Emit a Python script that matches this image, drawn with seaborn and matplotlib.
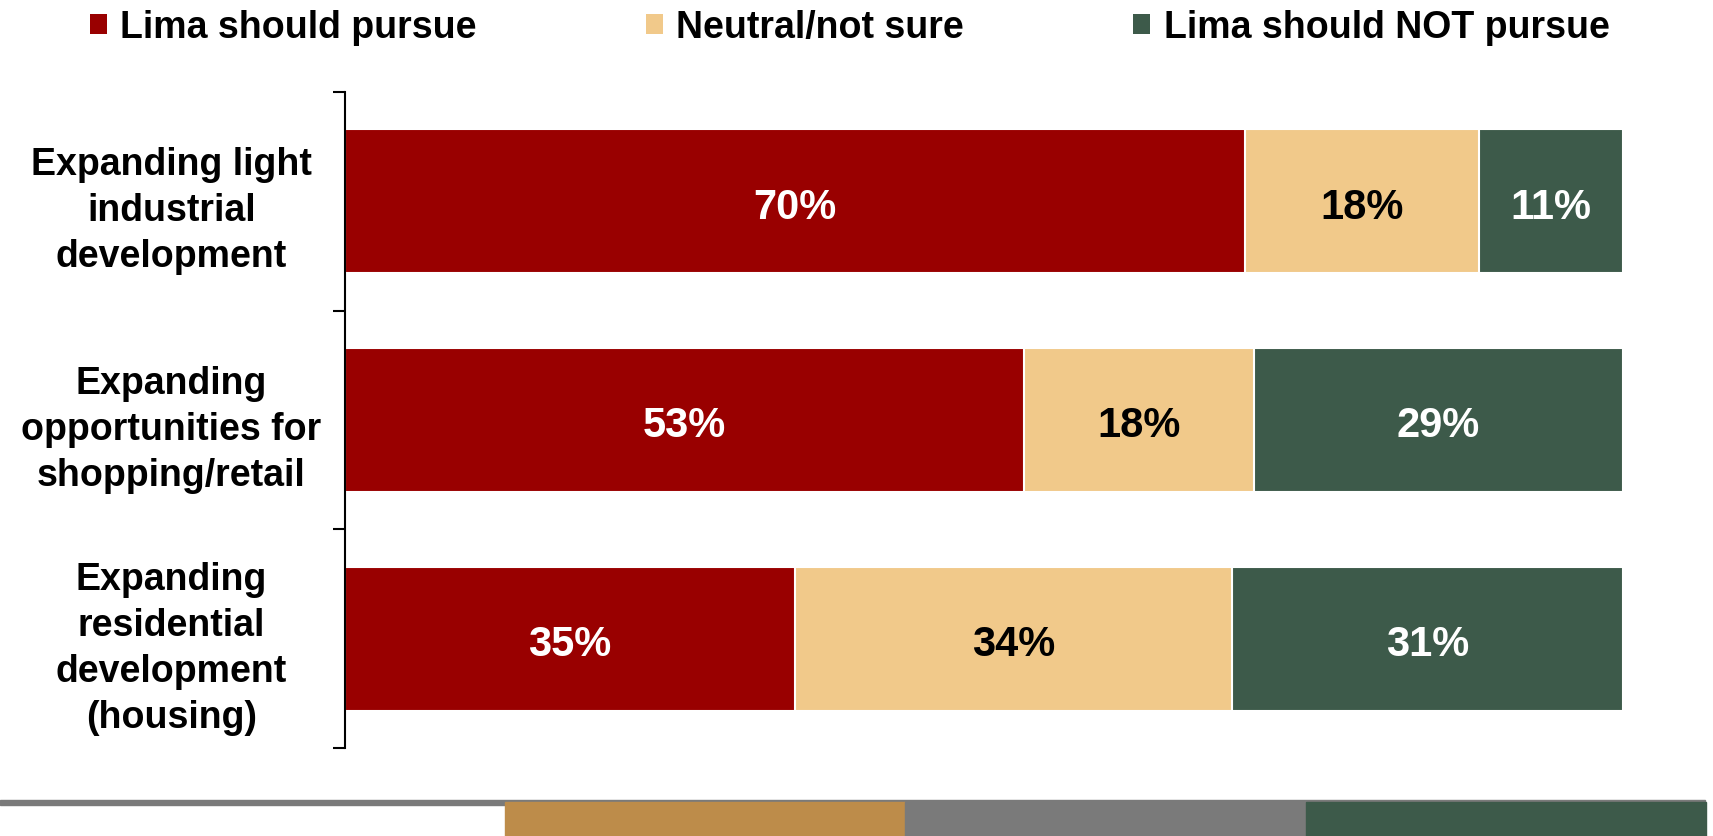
import numpy as np
import pandas as pd
import seaborn as sns
from matplotlib import pyplot as plt
from matplotlib.patches import Rectangle, Patch

# data
categories = ["Expanding light\nindustrial\ndevelopment",
              "Expanding\nopportunities for\nshopping/retail",
              "Expanding\nresidential\ndevelopment\n(housing)"]
pursue = [70.4, 53.1, 35.2]
neutral = [18.3, 18.0, 34.2]
not_pursue = [11.3, 28.9, 30.6]
series_names = ["Lima should pursue", "Neutral/not sure", "Lima should NOT pursue"]

red = "#990000"
tan = "#F1C98A"
green = "#3D5A4A"

sns.set_theme(style="white")
plt.rcParams['font.family'] = ['Liberation Sans', 'DejaVu Sans']
plt.rcParams['font.weight'] = 'bold'
plt.rcParams['text.color'] = 'black'
plt.rcParams['ytick.color'] = 'black'

fig = plt.figure(figsize=(17.13, 8.37), dpi=100)
ax = fig.add_axes([0.2014, 0.1051, 0.7461, 0.7838])

df = pd.DataFrame({"category": categories, "pursue": pursue,
                   "neutral": neutral, "not_pursue": not_pursue})
df["c1"] = df["pursue"]
df["c2"] = df["pursue"] + df["neutral"]
df["c3"] = df["c2"] + df["not_pursue"]

# stacked bars drawn back to front
for col, color in [("c3", green), ("c2", tan), ("c1", red)]:
    sns.barplot(data=df, x=col, y="category", color=color, width=0.66,
                edgecolor="white", linewidth=1.5, saturation=1, ax=ax)

# percent labels in the middle of each segment
for i, row in df.iterrows():
    segs = [(row["pursue"], 0, "white"),
            (row["neutral"], row["c1"], "black"),
            (row["not_pursue"], row["c2"], "white")]
    for val, left, tc in segs:
        ax.text(left + val / 2, i + 0.025, f"{val:.0f}%", ha="center", va="center",
                color=tc, fontsize=30, fontweight="bold")

ax.set_xlim(0, 100)
ax.set_ylim(2.5, -0.5)
ax.set_xlabel("")
ax.set_ylabel("")
ax.set_xticks([])
for s in ["top", "right", "bottom"]:
    ax.spines[s].set_visible(False)
ax.spines["left"].set_color("black")
ax.spines["left"].set_linewidth(1.5)

ax.set_yticks(range(len(categories)))
ax.set_yticklabels(categories, ha="center", fontsize=27, fontweight="bold",
                   color="black", linespacing=1.36)
ax.tick_params(axis="y", which="major", length=0, pad=125)
ax.set_yticks([-0.5, 0.5, 1.5, 2.5], minor=True)
ax.tick_params(axis="y", which="minor", length=8.6, width=1.5, color="black", left=True)

# legend
handles = [Patch(facecolor=c, edgecolor="none") for c in [red, tan, green]]
fig.legend(handles, series_names, loc="center", bbox_to_anchor=(0.496, 0.966),
           ncol=3, frameon=False, handlelength=0.45, handleheight=0.45,
           handletextpad=0.37, columnspacing=4.5,
           prop={"size": 27, "weight": "bold"})

# footer strip
W, H = 1713, 837
fig.patches.append(Rectangle((0, 1 - 806 / H), 1705 / W, 5 / H,
                             transform=fig.transFigure, color="#7A7A7A", zorder=0))
for x0, x1, c in [(505, 905, "#BD8C4A"), (905, 1306, "#7A7A7A"), (1306, 1706, "#3D5A4A")]:
    fig.patches.append(Rectangle((x0 / W, 0), (x1 - x0) / W, 1 - 803 / H,
                                 transform=fig.transFigure, color=c, zorder=0))

fig.savefig("out.png", dpi=100)
